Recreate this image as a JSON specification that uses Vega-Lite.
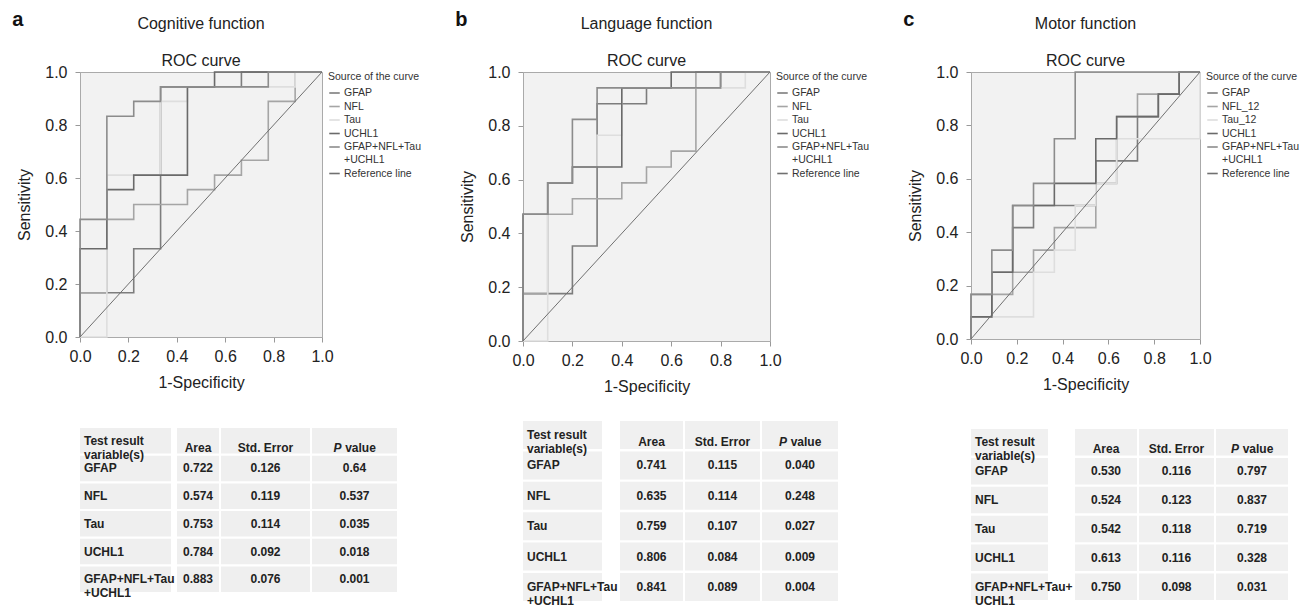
{
  "$schema": "https://vega.github.io/schema/vega-lite/v6.json",
  "background": "white",
  "padding": {"left": 12, "top": 9, "right": 0, "bottom": 0},
  "config": {
    "font": "Liberation Sans",
    "view": {"stroke": null},
    "title": {"font": "Liberation Sans", "fontSize": 16, "fontWeight": "normal", "color": "#222", "subtitleFont": "Liberation Sans", "subtitleFontSize": 16, "subtitleColor": "#222", "anchor": "middle", "frame": "group"},
    "axis": {"labelFont": "Liberation Sans", "titleFont": "Liberation Sans", "labelFontSize": 16, "titleFontSize": 16, "titleFontWeight": "normal", "labelColor": "#222", "titleColor": "#222", "tickColor": "#999", "domainColor": "#aaa", "tickSize": 5, "grid": false, "labelFlush": false},
    "axisX": {"labelPadding": 6, "titlePadding": 10},
    "axisY": {"labelPadding": 8, "titlePadding": 12},
    "legend": {"orient": "right", "offset": 2, "padding": 0, "titleFont": "Liberation Sans", "labelFont": "Liberation Sans", "titleFontSize": 10.5, "titleFontWeight": "normal", "labelFontSize": 10.5, "titleColor": "#333", "labelColor": "#333", "symbolType": "stroke", "symbolSize": 110, "symbolStrokeWidth": 1.6, "rowPadding": 1.5, "titlePadding": 4, "labelOffset": 3}
  },
  "datasets": {
    "roc": [
      {"panel":"a","series":"GFAP","i":0,"fpr":0,"tpr":0},
      {"panel":"a","series":"GFAP","i":1,"fpr":0,"tpr":0.167},
      {"panel":"a","series":"GFAP","i":2,"fpr":0.222,"tpr":0.167},
      {"panel":"a","series":"GFAP","i":3,"fpr":0.222,"tpr":0.333},
      {"panel":"a","series":"GFAP","i":4,"fpr":0.333,"tpr":0.333},
      {"panel":"a","series":"GFAP","i":5,"fpr":0.333,"tpr":0.944},
      {"panel":"a","series":"GFAP","i":6,"fpr":0.667,"tpr":0.944},
      {"panel":"a","series":"GFAP","i":7,"fpr":0.667,"tpr":1},
      {"panel":"a","series":"GFAP","i":8,"fpr":1,"tpr":1},
      {"panel":"a","series":"NFL","i":0,"fpr":0,"tpr":0},
      {"panel":"a","series":"NFL","i":1,"fpr":0,"tpr":0.167},
      {"panel":"a","series":"NFL","i":2,"fpr":0.111,"tpr":0.167},
      {"panel":"a","series":"NFL","i":3,"fpr":0.111,"tpr":0.444},
      {"panel":"a","series":"NFL","i":4,"fpr":0.222,"tpr":0.444},
      {"panel":"a","series":"NFL","i":5,"fpr":0.222,"tpr":0.5},
      {"panel":"a","series":"NFL","i":6,"fpr":0.444,"tpr":0.5},
      {"panel":"a","series":"NFL","i":7,"fpr":0.444,"tpr":0.556},
      {"panel":"a","series":"NFL","i":8,"fpr":0.556,"tpr":0.556},
      {"panel":"a","series":"NFL","i":9,"fpr":0.556,"tpr":0.611},
      {"panel":"a","series":"NFL","i":10,"fpr":0.667,"tpr":0.611},
      {"panel":"a","series":"NFL","i":11,"fpr":0.667,"tpr":0.667},
      {"panel":"a","series":"NFL","i":12,"fpr":0.778,"tpr":0.667},
      {"panel":"a","series":"NFL","i":13,"fpr":0.778,"tpr":0.889},
      {"panel":"a","series":"NFL","i":14,"fpr":0.889,"tpr":0.889},
      {"panel":"a","series":"NFL","i":15,"fpr":0.889,"tpr":1},
      {"panel":"a","series":"NFL","i":16,"fpr":1,"tpr":1},
      {"panel":"a","series":"Tau","i":0,"fpr":0,"tpr":0},
      {"panel":"a","series":"Tau","i":1,"fpr":0.111,"tpr":0},
      {"panel":"a","series":"Tau","i":2,"fpr":0.111,"tpr":0.611},
      {"panel":"a","series":"Tau","i":3,"fpr":0.333,"tpr":0.611},
      {"panel":"a","series":"Tau","i":4,"fpr":0.333,"tpr":0.889},
      {"panel":"a","series":"Tau","i":5,"fpr":0.444,"tpr":0.889},
      {"panel":"a","series":"Tau","i":6,"fpr":0.444,"tpr":0.944},
      {"panel":"a","series":"Tau","i":7,"fpr":0.889,"tpr":0.944},
      {"panel":"a","series":"Tau","i":8,"fpr":0.889,"tpr":1},
      {"panel":"a","series":"Tau","i":9,"fpr":1,"tpr":1},
      {"panel":"a","series":"UCHL1","i":0,"fpr":0,"tpr":0},
      {"panel":"a","series":"UCHL1","i":1,"fpr":0,"tpr":0.333},
      {"panel":"a","series":"UCHL1","i":2,"fpr":0.111,"tpr":0.333},
      {"panel":"a","series":"UCHL1","i":3,"fpr":0.111,"tpr":0.556},
      {"panel":"a","series":"UCHL1","i":4,"fpr":0.222,"tpr":0.556},
      {"panel":"a","series":"UCHL1","i":5,"fpr":0.222,"tpr":0.611},
      {"panel":"a","series":"UCHL1","i":6,"fpr":0.444,"tpr":0.611},
      {"panel":"a","series":"UCHL1","i":7,"fpr":0.444,"tpr":0.944},
      {"panel":"a","series":"UCHL1","i":8,"fpr":0.556,"tpr":0.944},
      {"panel":"a","series":"UCHL1","i":9,"fpr":0.556,"tpr":1},
      {"panel":"a","series":"UCHL1","i":10,"fpr":1,"tpr":1},
      {"panel":"a","series":"GFAP+NFL+Tau|+UCHL1","i":0,"fpr":0,"tpr":0},
      {"panel":"a","series":"GFAP+NFL+Tau|+UCHL1","i":1,"fpr":0,"tpr":0.444},
      {"panel":"a","series":"GFAP+NFL+Tau|+UCHL1","i":2,"fpr":0.111,"tpr":0.444},
      {"panel":"a","series":"GFAP+NFL+Tau|+UCHL1","i":3,"fpr":0.111,"tpr":0.833},
      {"panel":"a","series":"GFAP+NFL+Tau|+UCHL1","i":4,"fpr":0.222,"tpr":0.833},
      {"panel":"a","series":"GFAP+NFL+Tau|+UCHL1","i":5,"fpr":0.222,"tpr":0.889},
      {"panel":"a","series":"GFAP+NFL+Tau|+UCHL1","i":6,"fpr":0.333,"tpr":0.889},
      {"panel":"a","series":"GFAP+NFL+Tau|+UCHL1","i":7,"fpr":0.333,"tpr":0.944},
      {"panel":"a","series":"GFAP+NFL+Tau|+UCHL1","i":8,"fpr":0.778,"tpr":0.944},
      {"panel":"a","series":"GFAP+NFL+Tau|+UCHL1","i":9,"fpr":0.778,"tpr":1},
      {"panel":"a","series":"GFAP+NFL+Tau|+UCHL1","i":10,"fpr":1,"tpr":1},
      {"panel":"a","series":"Reference line","i":0,"fpr":0,"tpr":0},
      {"panel":"a","series":"Reference line","i":1,"fpr":1,"tpr":1},

      {"panel":"b","series":"GFAP","i":0,"fpr":0,"tpr":0},
      {"panel":"b","series":"GFAP","i":1,"fpr":0,"tpr":0.176},
      {"panel":"b","series":"GFAP","i":2,"fpr":0.2,"tpr":0.176},
      {"panel":"b","series":"GFAP","i":3,"fpr":0.2,"tpr":0.353},
      {"panel":"b","series":"GFAP","i":4,"fpr":0.3,"tpr":0.353},
      {"panel":"b","series":"GFAP","i":5,"fpr":0.3,"tpr":0.882},
      {"panel":"b","series":"GFAP","i":6,"fpr":0.5,"tpr":0.882},
      {"panel":"b","series":"GFAP","i":7,"fpr":0.5,"tpr":0.941},
      {"panel":"b","series":"GFAP","i":8,"fpr":0.8,"tpr":0.941},
      {"panel":"b","series":"GFAP","i":9,"fpr":0.8,"tpr":1},
      {"panel":"b","series":"GFAP","i":10,"fpr":1,"tpr":1},
      {"panel":"b","series":"NFL","i":0,"fpr":0,"tpr":0},
      {"panel":"b","series":"NFL","i":1,"fpr":0,"tpr":0.176},
      {"panel":"b","series":"NFL","i":2,"fpr":0.1,"tpr":0.176},
      {"panel":"b","series":"NFL","i":3,"fpr":0.1,"tpr":0.471},
      {"panel":"b","series":"NFL","i":4,"fpr":0.2,"tpr":0.471},
      {"panel":"b","series":"NFL","i":5,"fpr":0.2,"tpr":0.529},
      {"panel":"b","series":"NFL","i":6,"fpr":0.4,"tpr":0.529},
      {"panel":"b","series":"NFL","i":7,"fpr":0.4,"tpr":0.588},
      {"panel":"b","series":"NFL","i":8,"fpr":0.5,"tpr":0.588},
      {"panel":"b","series":"NFL","i":9,"fpr":0.5,"tpr":0.647},
      {"panel":"b","series":"NFL","i":10,"fpr":0.6,"tpr":0.647},
      {"panel":"b","series":"NFL","i":11,"fpr":0.6,"tpr":0.706},
      {"panel":"b","series":"NFL","i":12,"fpr":0.7,"tpr":0.706},
      {"panel":"b","series":"NFL","i":13,"fpr":0.7,"tpr":1},
      {"panel":"b","series":"NFL","i":14,"fpr":1,"tpr":1},
      {"panel":"b","series":"Tau","i":0,"fpr":0,"tpr":0},
      {"panel":"b","series":"Tau","i":1,"fpr":0.1,"tpr":0},
      {"panel":"b","series":"Tau","i":2,"fpr":0.1,"tpr":0.588},
      {"panel":"b","series":"Tau","i":3,"fpr":0.2,"tpr":0.588},
      {"panel":"b","series":"Tau","i":4,"fpr":0.2,"tpr":0.647},
      {"panel":"b","series":"Tau","i":5,"fpr":0.3,"tpr":0.647},
      {"panel":"b","series":"Tau","i":6,"fpr":0.3,"tpr":0.765},
      {"panel":"b","series":"Tau","i":7,"fpr":0.4,"tpr":0.765},
      {"panel":"b","series":"Tau","i":8,"fpr":0.4,"tpr":0.941},
      {"panel":"b","series":"Tau","i":9,"fpr":0.9,"tpr":0.941},
      {"panel":"b","series":"Tau","i":10,"fpr":0.9,"tpr":1},
      {"panel":"b","series":"Tau","i":11,"fpr":1,"tpr":1},
      {"panel":"b","series":"UCHL1","i":0,"fpr":0,"tpr":0},
      {"panel":"b","series":"UCHL1","i":1,"fpr":0,"tpr":0.471},
      {"panel":"b","series":"UCHL1","i":2,"fpr":0.1,"tpr":0.471},
      {"panel":"b","series":"UCHL1","i":3,"fpr":0.1,"tpr":0.588},
      {"panel":"b","series":"UCHL1","i":4,"fpr":0.2,"tpr":0.588},
      {"panel":"b","series":"UCHL1","i":5,"fpr":0.2,"tpr":0.647},
      {"panel":"b","series":"UCHL1","i":6,"fpr":0.4,"tpr":0.647},
      {"panel":"b","series":"UCHL1","i":7,"fpr":0.4,"tpr":0.941},
      {"panel":"b","series":"UCHL1","i":8,"fpr":0.6,"tpr":0.941},
      {"panel":"b","series":"UCHL1","i":9,"fpr":0.6,"tpr":1},
      {"panel":"b","series":"UCHL1","i":10,"fpr":1,"tpr":1},
      {"panel":"b","series":"GFAP+NFL+Tau|+UCHL1","i":0,"fpr":0,"tpr":0},
      {"panel":"b","series":"GFAP+NFL+Tau|+UCHL1","i":1,"fpr":0,"tpr":0.471},
      {"panel":"b","series":"GFAP+NFL+Tau|+UCHL1","i":2,"fpr":0.1,"tpr":0.471},
      {"panel":"b","series":"GFAP+NFL+Tau|+UCHL1","i":3,"fpr":0.1,"tpr":0.588},
      {"panel":"b","series":"GFAP+NFL+Tau|+UCHL1","i":4,"fpr":0.2,"tpr":0.588},
      {"panel":"b","series":"GFAP+NFL+Tau|+UCHL1","i":5,"fpr":0.2,"tpr":0.824},
      {"panel":"b","series":"GFAP+NFL+Tau|+UCHL1","i":6,"fpr":0.3,"tpr":0.824},
      {"panel":"b","series":"GFAP+NFL+Tau|+UCHL1","i":7,"fpr":0.3,"tpr":0.941},
      {"panel":"b","series":"GFAP+NFL+Tau|+UCHL1","i":8,"fpr":0.8,"tpr":0.941},
      {"panel":"b","series":"GFAP+NFL+Tau|+UCHL1","i":9,"fpr":0.8,"tpr":1},
      {"panel":"b","series":"GFAP+NFL+Tau|+UCHL1","i":10,"fpr":1,"tpr":1},
      {"panel":"b","series":"Reference line","i":0,"fpr":0,"tpr":0},
      {"panel":"b","series":"Reference line","i":1,"fpr":1,"tpr":1},

      {"panel":"c","series":"GFAP","i":0,"fpr":0,"tpr":0},
      {"panel":"c","series":"GFAP","i":1,"fpr":0,"tpr":0.083},
      {"panel":"c","series":"GFAP","i":2,"fpr":0.091,"tpr":0.083},
      {"panel":"c","series":"GFAP","i":3,"fpr":0.091,"tpr":0.25},
      {"panel":"c","series":"GFAP","i":4,"fpr":0.182,"tpr":0.25},
      {"panel":"c","series":"GFAP","i":5,"fpr":0.182,"tpr":0.417},
      {"panel":"c","series":"GFAP","i":6,"fpr":0.273,"tpr":0.417},
      {"panel":"c","series":"GFAP","i":7,"fpr":0.273,"tpr":0.5},
      {"panel":"c","series":"GFAP","i":8,"fpr":0.545,"tpr":0.5},
      {"panel":"c","series":"GFAP","i":9,"fpr":0.545,"tpr":0.667},
      {"panel":"c","series":"GFAP","i":10,"fpr":0.727,"tpr":0.667},
      {"panel":"c","series":"GFAP","i":11,"fpr":0.727,"tpr":0.833},
      {"panel":"c","series":"GFAP","i":12,"fpr":0.818,"tpr":0.833},
      {"panel":"c","series":"GFAP","i":13,"fpr":0.818,"tpr":0.917},
      {"panel":"c","series":"GFAP","i":14,"fpr":0.909,"tpr":0.917},
      {"panel":"c","series":"GFAP","i":15,"fpr":0.909,"tpr":1},
      {"panel":"c","series":"GFAP","i":16,"fpr":1,"tpr":1},
      {"panel":"c","series":"NFL_12","i":0,"fpr":0,"tpr":0},
      {"panel":"c","series":"NFL_12","i":1,"fpr":0,"tpr":0.167},
      {"panel":"c","series":"NFL_12","i":2,"fpr":0.182,"tpr":0.167},
      {"panel":"c","series":"NFL_12","i":3,"fpr":0.182,"tpr":0.25},
      {"panel":"c","series":"NFL_12","i":4,"fpr":0.273,"tpr":0.25},
      {"panel":"c","series":"NFL_12","i":5,"fpr":0.273,"tpr":0.333},
      {"panel":"c","series":"NFL_12","i":6,"fpr":0.364,"tpr":0.333},
      {"panel":"c","series":"NFL_12","i":7,"fpr":0.364,"tpr":0.417},
      {"panel":"c","series":"NFL_12","i":8,"fpr":0.545,"tpr":0.417},
      {"panel":"c","series":"NFL_12","i":9,"fpr":0.545,"tpr":0.583},
      {"panel":"c","series":"NFL_12","i":10,"fpr":0.636,"tpr":0.583},
      {"panel":"c","series":"NFL_12","i":11,"fpr":0.636,"tpr":0.833},
      {"panel":"c","series":"NFL_12","i":12,"fpr":0.727,"tpr":0.833},
      {"panel":"c","series":"NFL_12","i":13,"fpr":0.727,"tpr":0.917},
      {"panel":"c","series":"NFL_12","i":14,"fpr":0.909,"tpr":0.917},
      {"panel":"c","series":"NFL_12","i":15,"fpr":0.909,"tpr":1},
      {"panel":"c","series":"NFL_12","i":16,"fpr":1,"tpr":1},
      {"panel":"c","series":"Tau_12","i":0,"fpr":0,"tpr":0},
      {"panel":"c","series":"Tau_12","i":1,"fpr":0,"tpr":0.083},
      {"panel":"c","series":"Tau_12","i":2,"fpr":0.273,"tpr":0.083},
      {"panel":"c","series":"Tau_12","i":3,"fpr":0.273,"tpr":0.25},
      {"panel":"c","series":"Tau_12","i":4,"fpr":0.364,"tpr":0.25},
      {"panel":"c","series":"Tau_12","i":5,"fpr":0.364,"tpr":0.333},
      {"panel":"c","series":"Tau_12","i":6,"fpr":0.455,"tpr":0.333},
      {"panel":"c","series":"Tau_12","i":7,"fpr":0.455,"tpr":0.5},
      {"panel":"c","series":"Tau_12","i":8,"fpr":0.545,"tpr":0.5},
      {"panel":"c","series":"Tau_12","i":9,"fpr":0.545,"tpr":0.583},
      {"panel":"c","series":"Tau_12","i":10,"fpr":0.636,"tpr":0.583},
      {"panel":"c","series":"Tau_12","i":11,"fpr":0.636,"tpr":0.75},
      {"panel":"c","series":"Tau_12","i":12,"fpr":1,"tpr":0.75},
      {"panel":"c","series":"Tau_12","i":13,"fpr":1,"tpr":1},
      {"panel":"c","series":"UCHL1","i":0,"fpr":0,"tpr":0},
      {"panel":"c","series":"UCHL1","i":1,"fpr":0,"tpr":0.083},
      {"panel":"c","series":"UCHL1","i":2,"fpr":0.091,"tpr":0.083},
      {"panel":"c","series":"UCHL1","i":3,"fpr":0.091,"tpr":0.25},
      {"panel":"c","series":"UCHL1","i":4,"fpr":0.182,"tpr":0.25},
      {"panel":"c","series":"UCHL1","i":5,"fpr":0.182,"tpr":0.5},
      {"panel":"c","series":"UCHL1","i":6,"fpr":0.364,"tpr":0.5},
      {"panel":"c","series":"UCHL1","i":7,"fpr":0.364,"tpr":0.583},
      {"panel":"c","series":"UCHL1","i":8,"fpr":0.545,"tpr":0.583},
      {"panel":"c","series":"UCHL1","i":9,"fpr":0.545,"tpr":0.75},
      {"panel":"c","series":"UCHL1","i":10,"fpr":0.636,"tpr":0.75},
      {"panel":"c","series":"UCHL1","i":11,"fpr":0.636,"tpr":0.833},
      {"panel":"c","series":"UCHL1","i":12,"fpr":0.818,"tpr":0.833},
      {"panel":"c","series":"UCHL1","i":13,"fpr":0.818,"tpr":0.917},
      {"panel":"c","series":"UCHL1","i":14,"fpr":0.909,"tpr":0.917},
      {"panel":"c","series":"UCHL1","i":15,"fpr":0.909,"tpr":1},
      {"panel":"c","series":"UCHL1","i":16,"fpr":1,"tpr":1},
      {"panel":"c","series":"GFAP+NFL+Tau|+UCHL1","i":0,"fpr":0,"tpr":0},
      {"panel":"c","series":"GFAP+NFL+Tau|+UCHL1","i":1,"fpr":0,"tpr":0.167},
      {"panel":"c","series":"GFAP+NFL+Tau|+UCHL1","i":2,"fpr":0.091,"tpr":0.167},
      {"panel":"c","series":"GFAP+NFL+Tau|+UCHL1","i":3,"fpr":0.091,"tpr":0.333},
      {"panel":"c","series":"GFAP+NFL+Tau|+UCHL1","i":4,"fpr":0.182,"tpr":0.333},
      {"panel":"c","series":"GFAP+NFL+Tau|+UCHL1","i":5,"fpr":0.182,"tpr":0.5},
      {"panel":"c","series":"GFAP+NFL+Tau|+UCHL1","i":6,"fpr":0.273,"tpr":0.5},
      {"panel":"c","series":"GFAP+NFL+Tau|+UCHL1","i":7,"fpr":0.273,"tpr":0.583},
      {"panel":"c","series":"GFAP+NFL+Tau|+UCHL1","i":8,"fpr":0.364,"tpr":0.583},
      {"panel":"c","series":"GFAP+NFL+Tau|+UCHL1","i":9,"fpr":0.364,"tpr":0.75},
      {"panel":"c","series":"GFAP+NFL+Tau|+UCHL1","i":10,"fpr":0.455,"tpr":0.75},
      {"panel":"c","series":"GFAP+NFL+Tau|+UCHL1","i":11,"fpr":0.455,"tpr":1},
      {"panel":"c","series":"GFAP+NFL+Tau|+UCHL1","i":12,"fpr":1,"tpr":1},
      {"panel":"c","series":"Reference line","i":0,"fpr":0,"tpr":0},
      {"panel":"c","series":"Reference line","i":1,"fpr":1,"tpr":1}
    ],
    "ta": [
      {"r":"h","var":"Test result|variable(s)","area":"Area","se":"Std. Error","p":"value"},
      {"r":"1","var":"GFAP","area":"0.722","se":"0.126","p":"0.64"},
      {"r":"2","var":"NFL","area":"0.574","se":"0.119","p":"0.537"},
      {"r":"3","var":"Tau","area":"0.753","se":"0.114","p":"0.035"},
      {"r":"4","var":"UCHL1","area":"0.784","se":"0.092","p":"0.018"},
      {"r":"5","var":"GFAP+NFL+Tau|+UCHL1","area":"0.883","se":"0.076","p":"0.001"}
    ],
    "tb": [
      {"r":"h","var":"Test result|variable(s)","area":"Area","se":"Std. Error","p":"value"},
      {"r":"1","var":"GFAP","area":"0.741","se":"0.115","p":"0.040"},
      {"r":"2","var":"NFL","area":"0.635","se":"0.114","p":"0.248"},
      {"r":"3","var":"Tau","area":"0.759","se":"0.107","p":"0.027"},
      {"r":"4","var":"UCHL1","area":"0.806","se":"0.084","p":"0.009"},
      {"r":"5","var":"GFAP+NFL+Tau|+UCHL1","area":"0.841","se":"0.089","p":"0.004"}
    ],
    "tc": [
      {"r":"h","var":"Test result|variable(s)","area":"Area","se":"Std. Error","p":"value"},
      {"r":"1","var":"GFAP","area":"0.530","se":"0.116","p":"0.797"},
      {"r":"2","var":"NFL","area":"0.524","se":"0.123","p":"0.837"},
      {"r":"3","var":"Tau","area":"0.542","se":"0.118","p":"0.719"},
      {"r":"4","var":"UCHL1","area":"0.613","se":"0.116","p":"0.328"},
      {"r":"5","var":"GFAP+NFL+Tau+|UCHL1","area":"0.750","se":"0.098","p":"0.031"}
    ]
  },
  "resolve": {"scale": {"x": "independent", "y": "independent", "color": "independent"}, "legend": {"color": "independent"}},
  "spacing": 32,
  "hconcat": [
    {
      "title": {"text": "a", "anchor": "start", "frame": "bounds", "offset": -30, "dx": -4, "baseline": "alphabetic", "fontSize": 20, "fontWeight": "bold", "color": "#111"},
      "spacing": 37,
      "resolve": {"scale": {"x": "independent", "y": "independent", "color": "independent"}, "legend": {"color": "independent"}},
      "vconcat": [
        {
          "width": 242, "height": 265,
          "view": {"fill": "#f2f2f2", "stroke": "#aaaaaa"},
          "title": {"text": "Cognitive function", "subtitle": "ROC curve", "subtitlePadding": 21, "offset": -5},
          "data": {"name": "roc"},
          "transform": [{"filter": "datum.panel == 'a'"}],
          "encoding": {
            "x": {"field": "fpr", "type": "quantitative", "title": "1-Specificity", "scale": {"domain": [0, 1], "nice": false}, "axis": {"values": [0, 0.2, 0.4, 0.6, 0.8, 1], "format": ".1f"}},
            "y": {"field": "tpr", "type": "quantitative", "title": "Sensitivity", "scale": {"domain": [0, 1], "nice": false}, "axis": {"values": [0, 0.2, 0.4, 0.6, 0.8, 1], "format": ".1f"}},
            "color": {"field": "series", "type": "nominal", "scale": {"domain": ["GFAP", "NFL", "Tau", "UCHL1", "GFAP+NFL+Tau|+UCHL1", "Reference line"], "range": ["#7d7d7d", "#a5a5a5", "#dedede", "#6a6a6a", "#8c8c8c", "#707070"]}, "legend": {"title": "Source of the curve", "labelExpr": "split(datum.label, '|')"}},
            "order": {"field": "i", "type": "quantitative"}
          },
          "layer": [
            {"transform": [{"filter": "datum.series != 'Reference line'"}], "mark": {"type": "line", "strokeWidth": 1.6}},
            {"transform": [{"filter": "datum.series == 'Reference line'"}], "mark": {"type": "line", "strokeWidth": 1}}
          ]
        },
        {
          "spacing": 2,
          "resolve": {"scale": {"x": "independent", "y": "independent"}},
          "hconcat": [
            {
              "width": 91, "height": 164, "data": {"name": "ta"},
              "encoding": {"y": {"field": "r", "type": "nominal", "sort": null, "axis": null, "scale": {"paddingInner": 0.08, "paddingOuter": 0}}},
              "layer": [
                {"mark": {"type": "rect", "color": "#efefef"}},
                {"mark": {"type": "text", "align": "left", "dx": 4, "fontWeight": "bold", "fontSize": 12, "lineBreak": "|", "lineHeight": 14, "color": "#222"}, "encoding": {"x": {"datum": 0, "type": "quantitative", "scale": {"domain": [0, 1]}, "axis": null}, "text": {"field": "var"}}}
              ]
            },
            {
              "width": 42, "height": 164, "data": {"name": "ta"},
              "encoding": {"y": {"field": "r", "type": "nominal", "sort": null, "axis": null, "scale": {"paddingInner": 0.08, "paddingOuter": 0}}},
              "layer": [
                {"mark": {"type": "rect", "color": "#efefef"}},
                {"transform": [{"filter": "datum.r != 'h'"}], "mark": {"type": "text", "fontWeight": "bold", "fontSize": 12, "color": "#222"}, "encoding": {"text": {"field": "area"}}},
                {"transform": [{"filter": "datum.r == 'h'"}], "mark": {"type": "text", "fontWeight": "bold", "fontSize": 12, "dy": 7, "color": "#222"}, "encoding": {"text": {"field": "area"}}}
              ]
            },
            {
              "width": 89, "height": 164, "data": {"name": "ta"},
              "encoding": {"y": {"field": "r", "type": "nominal", "sort": null, "axis": null, "scale": {"paddingInner": 0.08, "paddingOuter": 0}}},
              "layer": [
                {"mark": {"type": "rect", "color": "#efefef"}},
                {"transform": [{"filter": "datum.r != 'h'"}], "mark": {"type": "text", "fontWeight": "bold", "fontSize": 12, "color": "#222"}, "encoding": {"text": {"field": "se"}}},
                {"transform": [{"filter": "datum.r == 'h'"}], "mark": {"type": "text", "fontWeight": "bold", "fontSize": 12, "dy": 7, "color": "#222"}, "encoding": {"text": {"field": "se"}}}
              ]
            },
            {
              "width": 85, "height": 164, "data": {"name": "ta"},
              "encoding": {"y": {"field": "r", "type": "nominal", "sort": null, "axis": null, "scale": {"paddingInner": 0.08, "paddingOuter": 0}}},
              "layer": [
                {"mark": {"type": "rect", "color": "#efefef"}},
                {"transform": [{"filter": "datum.r != 'h'"}], "mark": {"type": "text", "fontWeight": "bold", "fontSize": 12, "color": "#222"}, "encoding": {"text": {"field": "p"}}},
                {"transform": [{"filter": "datum.r == 'h'"}], "mark": {"type": "text", "fontWeight": "bold", "fontSize": 12, "dy": 7, "dx": 6, "color": "#222"}, "encoding": {"text": {"field": "p"}}},
                {"transform": [{"filter": "datum.r == 'h'"}], "mark": {"type": "text", "fontWeight": "bold", "fontStyle": "italic", "fontSize": 12, "dy": 7, "dx": -13, "align": "right", "color": "#222"}, "encoding": {"text": {"value": "P"}}}
              ]
            }
          ]
        }
      ]
    },
    {
      "title": {"text": "b", "anchor": "start", "frame": "bounds", "offset": -30, "dx": -4, "baseline": "alphabetic", "fontSize": 20, "fontWeight": "bold", "color": "#111"},
      "spacing": 26,
      "resolve": {"scale": {"x": "independent", "y": "independent", "color": "independent"}, "legend": {"color": "independent"}},
      "vconcat": [
        {
          "width": 247, "height": 269,
          "view": {"fill": "#f2f2f2", "stroke": "#aaaaaa"},
          "title": {"text": "Language function", "subtitle": "ROC curve", "subtitlePadding": 21, "offset": -5},
          "data": {"name": "roc"},
          "transform": [{"filter": "datum.panel == 'b'"}],
          "encoding": {
            "x": {"field": "fpr", "type": "quantitative", "title": "1-Specificity", "scale": {"domain": [0, 1], "nice": false}, "axis": {"values": [0, 0.2, 0.4, 0.6, 0.8, 1], "format": ".1f"}},
            "y": {"field": "tpr", "type": "quantitative", "title": "Sensitivity", "scale": {"domain": [0, 1], "nice": false}, "axis": {"values": [0, 0.2, 0.4, 0.6, 0.8, 1], "format": ".1f"}},
            "color": {"field": "series", "type": "nominal", "scale": {"domain": ["GFAP", "NFL", "Tau", "UCHL1", "GFAP+NFL+Tau|+UCHL1", "Reference line"], "range": ["#7d7d7d", "#a5a5a5", "#dedede", "#6a6a6a", "#8c8c8c", "#707070"]}, "legend": {"title": "Source of the curve", "labelExpr": "split(datum.label, '|')"}},
            "order": {"field": "i", "type": "quantitative"}
          },
          "layer": [
            {"transform": [{"filter": "datum.series != 'Reference line'"}], "mark": {"type": "line", "strokeWidth": 1.6}},
            {"transform": [{"filter": "datum.series == 'Reference line'"}], "mark": {"type": "line", "strokeWidth": 1}}
          ]
        },
        {
          "spacing": 2,
          "resolve": {"scale": {"x": "independent", "y": "independent"}},
          "hconcat": [
            {
              "width": 79, "height": 180, "data": {"name": "tb"},
              "encoding": {"y": {"field": "r", "type": "nominal", "sort": null, "axis": null, "scale": {"paddingInner": 0.08, "paddingOuter": 0}}},
              "layer": [
                {"mark": {"type": "rect", "color": "#f0f0f0"}},
                {"mark": {"type": "text", "align": "left", "dx": 4, "fontWeight": "bold", "fontSize": 12, "lineBreak": "|", "lineHeight": 14, "color": "#222"}, "encoding": {"x": {"datum": 0, "type": "quantitative", "scale": {"domain": [0, 1]}, "axis": null}, "text": {"field": "var"}}}
              ]
            },
            {
              "width": 63, "height": 180, "data": {"name": "tb"},
              "encoding": {"y": {"field": "r", "type": "nominal", "sort": null, "axis": null, "scale": {"paddingInner": 0.08, "paddingOuter": 0}}},
              "layer": [
                {"mark": {"type": "rect", "color": "#f0f0f0"}},
                {"transform": [{"filter": "datum.r != 'h'"}], "mark": {"type": "text", "fontWeight": "bold", "fontSize": 12, "color": "#222"}, "encoding": {"text": {"field": "area"}}},
                {"transform": [{"filter": "datum.r == 'h'"}], "mark": {"type": "text", "fontWeight": "bold", "fontSize": 12, "dy": 7, "color": "#222"}, "encoding": {"text": {"field": "area"}}}
              ]
            },
            {
              "width": 75, "height": 180, "data": {"name": "tb"},
              "encoding": {"y": {"field": "r", "type": "nominal", "sort": null, "axis": null, "scale": {"paddingInner": 0.08, "paddingOuter": 0}}},
              "layer": [
                {"mark": {"type": "rect", "color": "#f0f0f0"}},
                {"transform": [{"filter": "datum.r != 'h'"}], "mark": {"type": "text", "fontWeight": "bold", "fontSize": 12, "color": "#222"}, "encoding": {"text": {"field": "se"}}},
                {"transform": [{"filter": "datum.r == 'h'"}], "mark": {"type": "text", "fontWeight": "bold", "fontSize": 12, "dy": 7, "color": "#222"}, "encoding": {"text": {"field": "se"}}}
              ]
            },
            {
              "width": 76, "height": 180, "data": {"name": "tb"},
              "encoding": {"y": {"field": "r", "type": "nominal", "sort": null, "axis": null, "scale": {"paddingInner": 0.08, "paddingOuter": 0}}},
              "layer": [
                {"mark": {"type": "rect", "color": "#f0f0f0"}},
                {"transform": [{"filter": "datum.r != 'h'"}], "mark": {"type": "text", "fontWeight": "bold", "fontSize": 12, "color": "#222"}, "encoding": {"text": {"field": "p"}}},
                {"transform": [{"filter": "datum.r == 'h'"}], "mark": {"type": "text", "fontWeight": "bold", "fontSize": 12, "dy": 7, "dx": 6, "color": "#222"}, "encoding": {"text": {"field": "p"}}},
                {"transform": [{"filter": "datum.r == 'h'"}], "mark": {"type": "text", "fontWeight": "bold", "fontStyle": "italic", "fontSize": 12, "dy": 7, "dx": -13, "align": "right", "color": "#222"}, "encoding": {"text": {"value": "P"}}}
              ]
            }
          ]
        }
      ]
    },
    {
      "title": {"text": "c", "anchor": "start", "frame": "bounds", "offset": -30, "dx": -4, "baseline": "alphabetic", "fontSize": 20, "fontWeight": "bold", "color": "#111"},
      "spacing": 36,
      "resolve": {"scale": {"x": "independent", "y": "independent", "color": "independent"}, "legend": {"color": "independent"}},
      "vconcat": [
        {
          "width": 229, "height": 267,
          "view": {"fill": "#f2f2f2", "stroke": "#aaaaaa"},
          "title": {"text": "Motor function", "subtitle": "ROC curve", "subtitlePadding": 21, "offset": -5},
          "data": {"name": "roc"},
          "transform": [{"filter": "datum.panel == 'c'"}],
          "encoding": {
            "x": {"field": "fpr", "type": "quantitative", "title": "1-Specificity", "scale": {"domain": [0, 1], "nice": false}, "axis": {"values": [0, 0.2, 0.4, 0.6, 0.8, 1], "format": ".1f"}},
            "y": {"field": "tpr", "type": "quantitative", "title": "Sensitivity", "scale": {"domain": [0, 1], "nice": false}, "axis": {"values": [0, 0.2, 0.4, 0.6, 0.8, 1], "format": ".1f"}},
            "color": {"field": "series", "type": "nominal", "scale": {"domain": ["GFAP", "NFL_12", "Tau_12", "UCHL1", "GFAP+NFL+Tau|+UCHL1", "Reference line"], "range": ["#7d7d7d", "#a5a5a5", "#dedede", "#6a6a6a", "#8c8c8c", "#707070"]}, "legend": {"title": "Source of the curve", "labelExpr": "split(datum.label, '|')"}},
            "order": {"field": "i", "type": "quantitative"}
          },
          "layer": [
            {"transform": [{"filter": "datum.series != 'Reference line'"}], "mark": {"type": "line", "strokeWidth": 1.6}},
            {"transform": [{"filter": "datum.series == 'Reference line'"}], "mark": {"type": "line", "strokeWidth": 1}}
          ]
        },
        {
          "spacing": 2,
          "resolve": {"scale": {"x": "independent", "y": "independent"}},
          "hconcat": [
            {
              "width": 77, "height": 171, "data": {"name": "tc"},
              "encoding": {"y": {"field": "r", "type": "nominal", "sort": null, "axis": null, "scale": {"paddingInner": 0.08, "paddingOuter": 0}}},
              "layer": [
                {"mark": {"type": "rect", "color": "#f0f0f0"}},
                {"mark": {"type": "text", "align": "left", "dx": 4, "fontWeight": "bold", "fontSize": 12, "lineBreak": "|", "lineHeight": 14, "color": "#222"}, "encoding": {"x": {"datum": 0, "type": "quantitative", "scale": {"domain": [0, 1]}, "axis": null}, "text": {"field": "var"}}}
              ]
            },
            {
              "width": 62, "height": 171, "data": {"name": "tc"},
              "encoding": {"y": {"field": "r", "type": "nominal", "sort": null, "axis": null, "scale": {"paddingInner": 0.08, "paddingOuter": 0}}},
              "layer": [
                {"mark": {"type": "rect", "color": "#f0f0f0"}},
                {"transform": [{"filter": "datum.r != 'h'"}], "mark": {"type": "text", "fontWeight": "bold", "fontSize": 12, "color": "#222"}, "encoding": {"text": {"field": "area"}}},
                {"transform": [{"filter": "datum.r == 'h'"}], "mark": {"type": "text", "fontWeight": "bold", "fontSize": 12, "dy": 7, "color": "#222"}, "encoding": {"text": {"field": "area"}}}
              ]
            },
            {
              "width": 75, "height": 171, "data": {"name": "tc"},
              "encoding": {"y": {"field": "r", "type": "nominal", "sort": null, "axis": null, "scale": {"paddingInner": 0.08, "paddingOuter": 0}}},
              "layer": [
                {"mark": {"type": "rect", "color": "#f0f0f0"}},
                {"transform": [{"filter": "datum.r != 'h'"}], "mark": {"type": "text", "fontWeight": "bold", "fontSize": 12, "color": "#222"}, "encoding": {"text": {"field": "se"}}},
                {"transform": [{"filter": "datum.r == 'h'"}], "mark": {"type": "text", "fontWeight": "bold", "fontSize": 12, "dy": 7, "color": "#222"}, "encoding": {"text": {"field": "se"}}}
              ]
            },
            {
              "width": 72, "height": 171, "data": {"name": "tc"},
              "encoding": {"y": {"field": "r", "type": "nominal", "sort": null, "axis": null, "scale": {"paddingInner": 0.08, "paddingOuter": 0}}},
              "layer": [
                {"mark": {"type": "rect", "color": "#f0f0f0"}},
                {"transform": [{"filter": "datum.r != 'h'"}], "mark": {"type": "text", "fontWeight": "bold", "fontSize": 12, "color": "#222"}, "encoding": {"text": {"field": "p"}}},
                {"transform": [{"filter": "datum.r == 'h'"}], "mark": {"type": "text", "fontWeight": "bold", "fontSize": 12, "dy": 7, "dx": 6, "color": "#222"}, "encoding": {"text": {"field": "p"}}},
                {"transform": [{"filter": "datum.r == 'h'"}], "mark": {"type": "text", "fontWeight": "bold", "fontStyle": "italic", "fontSize": 12, "dy": 7, "dx": -13, "align": "right", "color": "#222"}, "encoding": {"text": {"value": "P"}}}
              ]
            }
          ]
        }
      ]
    }
  ]
}
